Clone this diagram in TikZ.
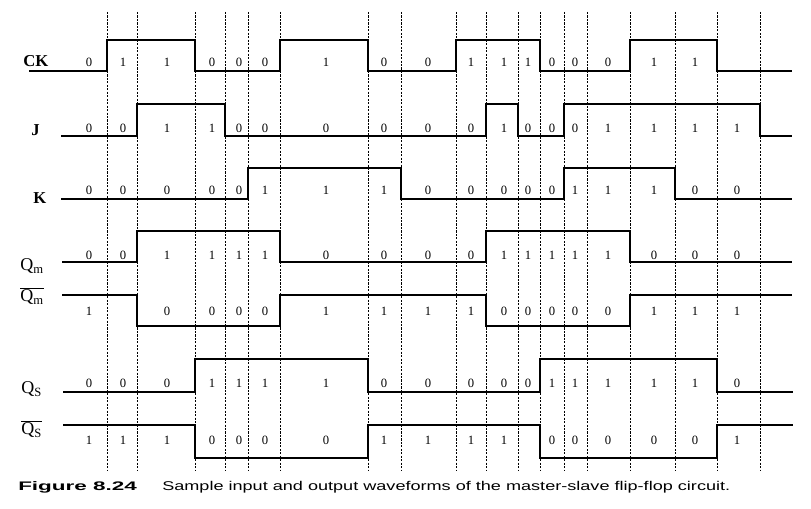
\documentclass[tikz,border=0pt]{standalone}
\usepackage{fontspec}
\setmainfont{Liberation Serif}
\newfontfamily\capfont{Liberation Sans}
\begin{document}
\def\xc{{89,123,167,212,239,265,326,384,428,471,504,528,552,575,608,654,695,737}}
\newcommand\vals[3]{%
  \foreach \v [count=\i from 0] in {#3} {%
    \if x\v\else
      \pgfmathsetmacro\xx{\xc[\i]}
      \node[val] (#1\i) at (\xx,#2) {\v};
    \fi}}
\begin{tikzpicture}[x=0.75pt,y=-0.75pt,
  wave/.style={line width=1.1pt},
  edge/.style={line width=1.9pt},
  gridline/.style={line width=0.6pt, dash pattern=on 1.6pt off 1pt},
  val/.style={font=\fontsize{9.5}{10}\selectfont, inner sep=0pt},
  lab/.style={font=\fontsize{13.5}{14}\selectfont, inner sep=0pt, anchor=base west},
  blab/.style={lab, font=\bfseries\fontsize{12.5}{13}\selectfont}]
\useasboundingbox[fill=white] (0,0) rectangle (811,509);

% dashed time lines
\foreach \x [count=\i] in {107,137,195,225,248,280,368,401,456,486,518,540,564,587,630,675,717,760}
  \draw[gridline] (\x,12) coordinate (top\i) -- (\x,471) coordinate (bot\i);

% CK
\draw[wave] (29,71) -| (107,40) -| (195,71) -| (280,40) -| (368,71) -| (456,40) -| (540,71) -| (630,40) -| (717,71) -- (792,71);
\foreach \x in {107,195,280,368,456,540,630,717} \draw[edge] (\x,71) -- (\x,40);
% J
\draw[wave] (61,136) -| (137,104) -| (225,136) -| (486,104) -| (518,136) -| (564,104) -| (760,136) -- (792,136);
\foreach \x in {137,225,486,518,564,760} \draw[edge] (\x,136) -- (\x,104);
% K
\draw[wave] (61,199) -| (248,168) -| (401,199) -| (564,168) -| (675,199) -- (792,199);
\foreach \x in {248,401,564,675} \draw[edge] (\x,199) -- (\x,168);
% Qm
\draw[wave] (62,262) -| (137,231) -| (280,262) -| (486,231) -| (630,262) -- (792,262);
\foreach \x in {137,280,486,630} \draw[edge] (\x,262) -- (\x,231);
% Qm bar
\draw[wave] (62,295) -| (137,326) -| (280,295) -| (486,326) -| (630,295) -- (792,295);
\foreach \x in {137,280,486,630} \draw[edge] (\x,295) -- (\x,326);
% Qs
\draw[wave] (63,392) -| (195,359) -| (368,392) -| (540,359) -| (717,392) -- (793,392);
\foreach \x in {195,368,540,717} \draw[edge] (\x,392) -- (\x,359);
% Qs bar
\draw[wave] (63,425) -| (195,458) -| (368,425) -| (540,458) -| (717,425) -- (793,425);
\foreach \x in {195,368,540,717} \draw[edge] (\x,425) -- (\x,458);

% values
\vals{ck}{62}{0,1,1,0,0,0,1,0,0,1,1,1,0,0,0,1,1,x}
\vals{j}{128}{0,0,1,1,0,0,0,0,0,0,1,0,0,0,1,1,1,1}
\vals{k}{190}{0,0,0,0,0,1,1,1,0,0,0,0,0,1,1,1,0,0}
\vals{qm}{255}{0,0,1,1,1,1,0,0,0,0,1,1,1,1,1,0,0,0}
\vals{qmb}{311}{1,x,0,0,0,0,1,1,1,1,0,0,0,0,0,1,1,1}
\vals{qs}{383}{0,0,0,1,1,1,1,0,0,0,0,0,1,1,1,1,1,0}
\vals{qsb}{440}{1,1,1,0,0,0,0,1,1,1,1,x,0,0,0,0,0,1}

% signal labels
\node[blab] (lck) at (23,67) {CK};
\node[blab] (lj) at (31,136) {J};
\node[blab] (lk) at (33,204) {K};
\node[lab] (lqm) at (20,271) {Q\textsubscript{m}};
\node[lab] (lqmb) at (20,302) {$\overline{\hbox{Q\textsubscript{m}}}$};
\node[lab] (lqs) at (21,394) {Q\textsubscript{S}};
\node[lab] (lqsb) at (21,435) {$\overline{\hbox{Q\textsubscript{S}}}$};

% caption
\node[inner sep=0pt, anchor=base west] (capa) at (18,491)
  {\resizebox{89pt}{6.75pt}{\capfont\bfseries Figure 8.24}};
\node[inner sep=0pt, anchor=base west] (capb) at (162,491)
  {\resizebox{426pt}{6.9pt}{\capfont Sample input and output waveforms of the master-slave flip-flop circuit.}};
\end{tikzpicture}
\end{document}
